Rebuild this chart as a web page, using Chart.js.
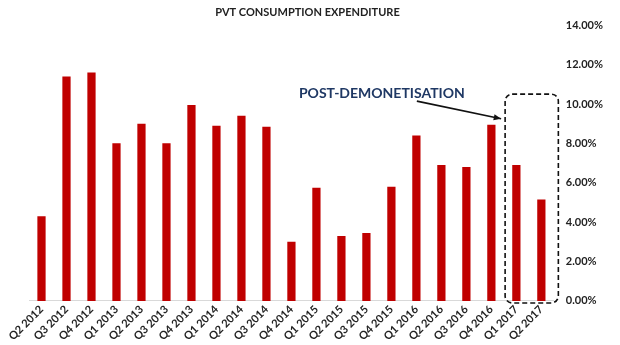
<!DOCTYPE html>
<html>
<head>
<meta charset="utf-8">
<script src="https://cdn.jsdelivr.net/npm/chart.js@4/dist/chart.umd.min.js"></script>
<style>
  html, body { margin: 0; padding: 0; background: #fff; }
  #wrap { width: 620px; height: 345px; position: relative; }
</style>
</head>
<body>
<div id="wrap"><canvas id="pvtChart"></canvas></div>
<script>
const quarters = ['Q2 2012', 'Q3 2012', 'Q4 2012', 'Q1 2013', 'Q2 2013', 'Q3 2013', 'Q4 2013',
    'Q1 2014', 'Q2 2014', 'Q3 2014', 'Q4 2014', 'Q1 2015', 'Q2 2015', 'Q3 2015', 'Q4 2015',
    'Q1 2016', 'Q2 2016', 'Q3 2016', 'Q4 2016', 'Q1 2017', 'Q2 2017'];
const growth = [4.3, 11.4, 11.6, 8.0, 9.0, 8.0, 9.95, 8.9, 9.4, 8.85, 3.0, 5.75,
    3.3, 3.45, 5.8, 8.4, 6.9, 6.8, 8.95, 6.9, 5.15];
const highlighted = ['Q1 2017', 'Q2 2017'];
const calloutText = 'POST-DEMONETISATION';

const fontFamily = 'Lato, "Open Sans", sans-serif';

// dashed box + arrow + label, placed from the chart's own scales
const calloutPlugin = {
    id: 'callout',
    afterDatasetsDraw(chart) {
        const { ctx, scales: { x, y } } = chart;
        const first = quarters.indexOf(highlighted[0]);
        const last = quarters.indexOf(highlighted[highlighted.length - 1]);
        const step = x.getPixelForValue(1) - x.getPixelForValue(0);
        const left = x.getPixelForValue(first) - step * 0.45;
        const right = x.getPixelForValue(last) + step * 0.68;
        const top = y.getPixelForValue(10.5);
        const bottom = y.getPixelForValue(0) + 2;

        ctx.save();
        ctx.strokeStyle = '#111';
        ctx.lineWidth = 1.6;
        ctx.setLineDash([5, 3]);
        ctx.beginPath();
        ctx.roundRect(left, top, right - left, bottom - top, 7);
        ctx.stroke();
        ctx.setLineDash([]);

        // label
        const tx = x.getPixelForValue(10.3);
        const ty = y.getPixelForValue(10.55);
        ctx.fillStyle = '#1f3864';
        ctx.font = 'bold 14px ' + fontFamily;
        ctx.textBaseline = 'middle';
        ctx.fillText(calloutText, tx, ty);

        // arrow
        const ax0 = tx + ctx.measureText(calloutText).width - 48;
        const ay0 = ty + 8;
        const ax1 = left - 4;
        const ay1 = y.getPixelForValue(9.25);
        ctx.strokeStyle = '#111';
        ctx.lineWidth = 1.6;
        ctx.beginPath();
        ctx.moveTo(ax0, ay0);
        ctx.lineTo(ax1, ay1);
        ctx.stroke();
        const ang = Math.atan2(ay1 - ay0, ax1 - ax0);
        ctx.fillStyle = '#111';
        ctx.beginPath();
        ctx.moveTo(ax1, ay1);
        ctx.lineTo(ax1 - 8 * Math.cos(ang - 0.4), ay1 - 8 * Math.sin(ang - 0.4));
        ctx.lineTo(ax1 - 8 * Math.cos(ang + 0.4), ay1 - 8 * Math.sin(ang + 0.4));
        ctx.closePath();
        ctx.fill();
        ctx.restore();
    }
};

const ctx = document.getElementById('pvtChart').getContext('2d');
new Chart(ctx, {
    type: 'bar',
    data: {
        labels: quarters,
        datasets: [{
            label: 'Pvt consumption expenditure',
            data: growth,
            backgroundColor: '#c00000',
            barPercentage: 0.33,
            categoryPercentage: 1
        }]
    },
    options: {
        responsive: true,
        maintainAspectRatio: false,
        animation: false,
        layout: {
            padding: { left: 0, right: 5, top: 2, bottom: 0 }
        },
        plugins: {
            legend: { display: false },
            tooltip: { enabled: false },
            title: {
                display: true,
                text: 'PVT CONSUMPTION EXPENDITURE',
                color: '#222',
                font: { family: fontFamily, size: 11, weight: 'bold' },
                padding: { top: 4, bottom: 6 }
            }
        },
        scales: {
            x: {
                grid: { display: false, drawTicks: false },
                border: { display: true, color: '#d9d9d9' },
                afterFit: scale => { scale.paddingLeft = 29; },
                ticks: {
                    maxRotation: 45,
                    minRotation: 45,
                    autoSkip: false,
                    padding: 2,
                    color: '#222',
                    font: { family: fontFamily, size: 11, weight: 'bold' }
                }
            },
            y: {
                position: 'right',
                min: 0,
                max: 14,
                grid: { display: false, drawTicks: false },
                border: { display: false },
                ticks: {
                    stepSize: 2,
                    padding: 12,
                    color: '#222',
                    font: { family: fontFamily, size: 11, weight: 'bold' },
                    callback: value => value.toFixed(2) + '%'
                }
            }
        }
    },
    plugins: [calloutPlugin]
});
</script>
</body>
</html>
